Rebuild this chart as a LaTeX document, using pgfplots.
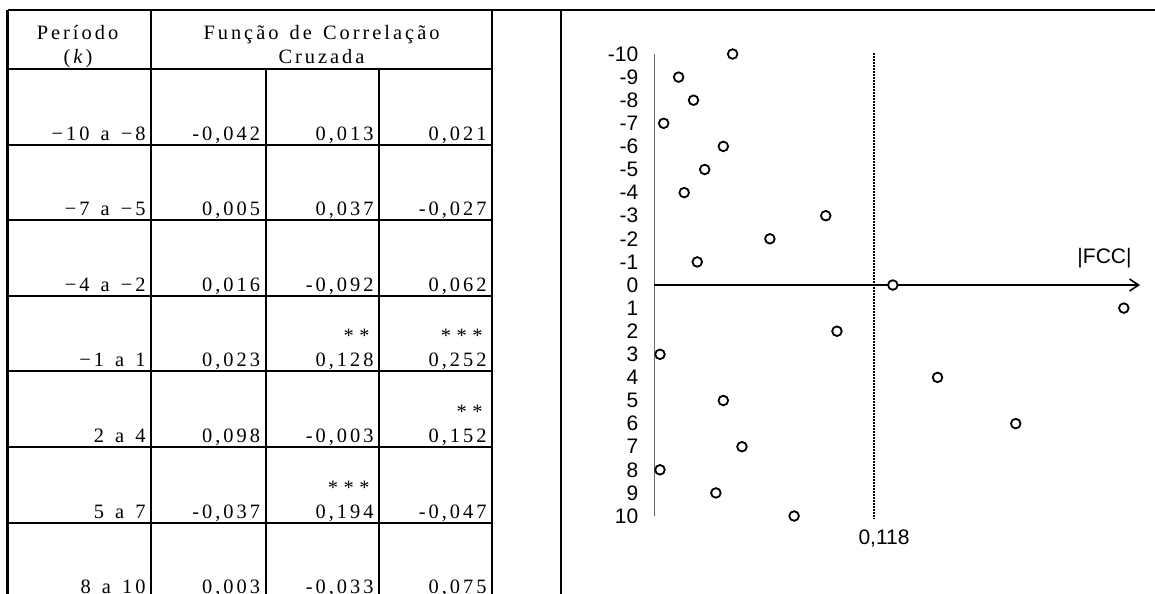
\documentclass[border=0pt]{standalone}
\usepackage{fontspec}
\setmainfont{Liberation Serif}
\newfontfamily\tabfont{Liberation Serif}
\newfontfamily\plotfont{Liberation Sans}
\usepackage{pgfplots}
\pgfplotsset{compat=1.18}
\usepackage{pgfplotstable}
\usetikzlibrary{arrows.meta}

\pgfplotstableread{
k fcc
-10 0.042
-9 0.013
-8 0.021
-7 0.005
-6 0.037
-5 0.027
-4 0.016
-3 0.092
-2 0.062
-1 0.023
0 0.128
1 0.252
2 0.098
3 0.003
4 0.152
5 0.037
6 0.194
7 0.047
8 0.003
9 0.033
10 0.075
}\fccdata

\newdimen\lsamt \lsamt=3bp
\ExplSyntaxOn
\NewDocumentCommand\ls{m}{\tl_map_inline:nn {#1}{##1\kern\lsamt}}
\ExplSyntaxOff
\newcommand\stars[1]{{\lsamt=5.5bp\ls{#1}}}

\newcommand\tf{\tabfont\fontsize{20.4bp}{24bp}\selectfont}
\newcommand\pf{\plotfont\fontsize{21bp}{23bp}\selectfont}

\newcommand\row[5]{%
  \node[anchor=base east] at (149.5,#1-5) {\ls{#2}};
  \node[anchor=base east] at (264,#1-5) {\ls{#3}};
  \node[anchor=base east] at (377.5,#1-5) {\ls{#4}};
  \node[anchor=base east] at (490.5,#1-5) {\ls{#5}};
}

\begin{document}
\begin{tikzpicture}
\path[use as bounding box] (0,0) rectangle (1155bp,-594bp);
\begin{scope}[x=1bp,y=-1bp,line width=2bp,every node/.style={font=\tf,inner sep=0pt}]
  % frame lines
  \draw (7.5,10) -- (1155,10);
  \draw (7.5,10) -- (7.5,600);
  \draw (151,10) -- (151,600);
  \draw (265.5,69) -- (265.5,600);
  \draw (379,69) -- (379,600);
  \draw (492,10) -- (492,600);
  \draw (560.5,10) -- (560.5,600);
  \foreach \yy in {69,145,220,296,371,447,523} \draw (7.5,\yy) -- (492,\yy);
  % header
  \node[anchor=base] at (79,39) {\ls{Período}};
  \node[anchor=base] at (79.5,63) {\ls{(}\textit{k}\kern\lsamt\ls{)}};
  \node[anchor=base] at (323,39) {\ls{Função~de~Correlação}};
  \node[anchor=base] at (323,63) {\ls{Cruzada}};
  % rows
  \row{145}{−10~a~−8}{-0,042}{0,013}{0,021}
  \row{220}{−7~a~−5}{0,005}{0,037}{-0,027}
  \row{296}{−4~a~−2}{0,016}{-0,092}{0,062}
  \row{371}{−1~a~1}{0,023}{0,128}{0,252}
  \row{447}{2~a~4}{0,098}{-0,003}{0,152}
  \row{523}{5~a~7}{-0,037}{0,194}{-0,047}
  \row{598.6}{8~a~10}{0,003}{-0,033}{0,075}
  % significance stars
  \node[anchor=base east] at (376,366-24) {\stars{**}};
  \node[anchor=base east] at (489,366-24) {\stars{***}};
  \node[anchor=base east] at (489,442-24) {\stars{**}};
  \node[anchor=base east] at (376,518-24) {\stars{***}};
  % plot labels
  \node[font=\pf,anchor=base] at (1104.5,263) {|FCC|};
  \node[font=\pf,anchor=base] at (884,544) {0,118};
\end{scope}
\begin{axis}[
  at={(654.4bp,-516bp)}, anchor=south west,
  scale only axis, width=485.6bp, height=462bp,
  xmin=0, xmax=0.2607, ymin=-10, ymax=10, y dir=reverse,
  axis x line=none, axis y line=left,
  y axis line style={-, line width=1bp, color=black!60},
  ytick={-10,...,10},
  yticklabels={-10,-9,-8,-7,-6,-5,-4,-3,-2,-1,0,1,2,3,4,5,6,7,8,9,10},
  major tick length=0pt,
  yticklabel style={font=\pf, anchor=east, inner sep=0pt, xshift=-16bp},
  xtick=\empty,
  clip=false,
]
\addplot[black, line width=1.5bp, dash pattern=on 1.5bp off 1.5bp] coordinates {(0.118,-10.04) (0.118,10.13)};
\addplot[black, line width=1.6bp, -{Straight Barb[length=9bp,width=12bp]}] coordinates {(0,0) (0.2607,0)};
\addplot[only marks, mark=*, mark size=4.8bp, mark options={draw=black, fill=white, line width=1.8bp}] table[x=fcc,y=k]{\fccdata};
\end{axis}
\end{tikzpicture}
\end{document}
